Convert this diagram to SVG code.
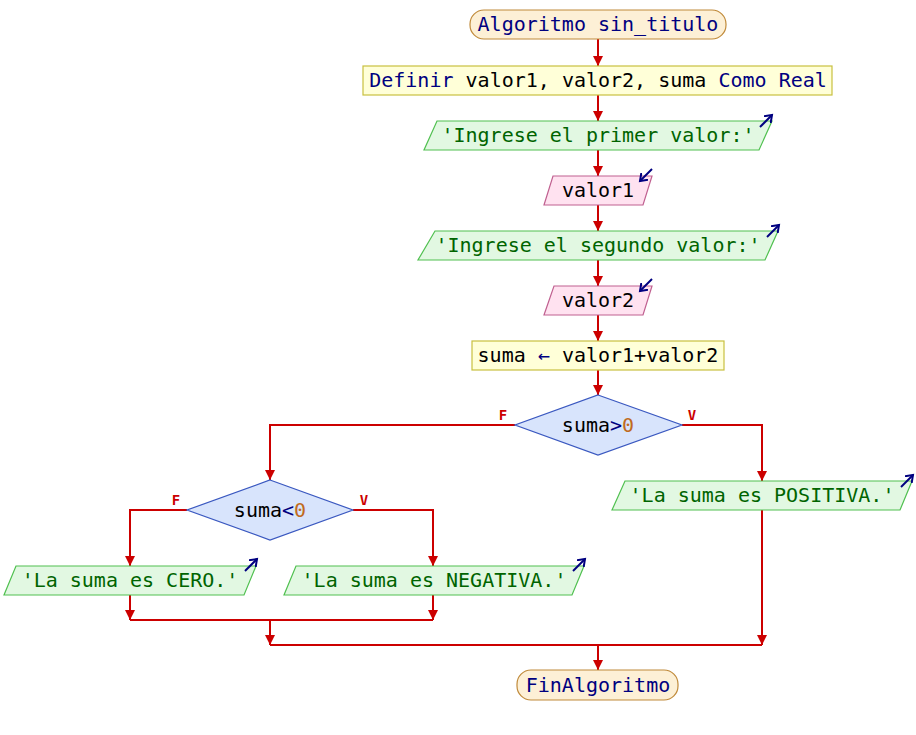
<svg xmlns="http://www.w3.org/2000/svg" width="916" height="735" viewBox="0 0 916 735">
<style>
text{font-family:"DejaVu Sans Mono","Liberation Mono",monospace;font-size:20px;text-anchor:middle}
.term{fill:#fdf0d6;stroke:#c08a3a;stroke-width:1.2}
.proc{fill:#ffffd8;stroke:#c8c040;stroke-width:1.2}
.out{fill:#e2f8e2;stroke:#50c050;stroke-width:1.2}
.in{fill:#ffe2f0;stroke:#c06090;stroke-width:1.2}
.dec{fill:#d8e4fc;stroke:#3a58c0;stroke-width:1.2}
.kw{fill:#000080}
.str{fill:#006400}
.num{fill:#c06a20}
.var{fill:#000}
.lbl{fill:#cc0000;font-size:14px;font-weight:bold}
.conn{fill:none;stroke:#cc0000;stroke-width:2}
.icon{fill:none;stroke:#000080;stroke-width:2}
</style>
<defs>
<marker id="ah" markerUnits="userSpaceOnUse" markerWidth="12" markerHeight="10" refX="10" refY="5" orient="auto">
<path d="M0,0 L10,5 L0,10 Z" fill="#cc0000"/>
</marker>
<marker id="ih" markerUnits="userSpaceOnUse" markerWidth="10" markerHeight="10" refX="7" refY="5" orient="auto">
<path d="M0,0 L7,5 L0,10" fill="none" stroke="#000080" stroke-width="2"/>
</marker>
</defs>
<g id="connectors">
<path class="conn" marker-end="url(#ah)" d="M598,39 V66"/>
<path class="conn" marker-end="url(#ah)" d="M598,95 V121"/>
<path class="conn" marker-end="url(#ah)" d="M598,150 V176"/>
<path class="conn" marker-end="url(#ah)" d="M598,205 V231"/>
<path class="conn" marker-end="url(#ah)" d="M598,260 V286"/>
<path class="conn" marker-end="url(#ah)" d="M598,315 V341"/>
<path class="conn" marker-end="url(#ah)" d="M598,370 V395"/>
<path class="conn" marker-end="url(#ah)" d="M515,425 H270 V480"/>
<path class="conn" marker-end="url(#ah)" d="M682,425 H762 V481"/>
<path class="conn" marker-end="url(#ah)" d="M187,510 H130 V566"/>
<path class="conn" marker-end="url(#ah)" d="M353,510 H433 V566"/>
<path class="conn" marker-end="url(#ah)" d="M130,595 V620"/>
<path class="conn" marker-end="url(#ah)" d="M433,595 V620"/>
<path class="conn" d="M130,620 H433"/>
<path class="conn" marker-end="url(#ah)" d="M270,620 V645"/>
<path class="conn" marker-end="url(#ah)" d="M762,510 V645"/>
<path class="conn" d="M270,645 H762"/>
<path class="conn" marker-end="url(#ah)" d="M598,645 V670"/>
<text class="lbl" x="503" y="420">F</text>
<text class="lbl" x="692" y="420">V</text>
<text class="lbl" x="176" y="505">F</text>
<text class="lbl" x="364" y="505">V</text>
</g>
<g id="start">
<rect class="term" x="470" y="10" width="256" height="29" rx="14"/>
<text class="kw" x="598" y="31">Algoritmo sin_titulo</text>
</g>
<g id="define">
<rect class="proc" x="363" y="66" width="469" height="29"/>
<text x="598" y="87"><tspan class="kw">Definir</tspan> <tspan class="var">valor1, valor2, suma</tspan> <tspan class="kw">Como Real</tspan></text>
</g>
<g id="out1">
<polygon class="out" points="437,121 772,121 759,150 424,150"/>
<text class="str" x="598" y="142">'Ingrese el primer valor:'</text>
<path class="icon" marker-end="url(#ih)" d="M760,127 L772,115"/>
</g>
<g id="in1">
<polygon class="in" points="553,176 652,176 643,205 544,205"/>
<text class="var" x="598" y="197">valor1</text>
<path class="icon" marker-end="url(#ih)" d="M652,169 L640,181"/>
</g>
<g id="out2">
<polygon class="out" points="435,231 778,231 765,260 418,260"/>
<text class="str" x="598" y="252">'Ingrese el segundo valor:'</text>
<path class="icon" marker-end="url(#ih)" d="M767,237 L779,225"/>
</g>
<g id="in2">
<polygon class="in" points="554,286 652,286 643,315 544,315"/>
<text class="var" x="598" y="307">valor2</text>
<path class="icon" marker-end="url(#ih)" d="M652,279 L640,291"/>
</g>
<g id="assign">
<rect class="proc" x="472" y="341" width="252" height="29"/>
<text x="598" y="362"><tspan class="var">suma</tspan> <tspan class="kw">←</tspan> <tspan class="var">valor1+valor2</tspan></text>
</g>
<g id="dec1">
<polygon class="dec" points="598,395 682,425 598,455 515,425"/>
<text x="598" y="432"><tspan class="var">suma</tspan><tspan class="kw">&gt;</tspan><tspan class="num">0</tspan></text>
</g>
<g id="outPos">
<polygon class="out" points="625,481 912,481 900,510 612,510"/>
<text class="str" x="762" y="502">'La suma es POSITIVA.'</text>
<path class="icon" marker-end="url(#ih)" d="M901,487 L913,475"/>
</g>
<g id="dec2">
<polygon class="dec" points="270,480 353,510 270,540 187,510"/>
<text x="270" y="517"><tspan class="var">suma</tspan><tspan class="kw">&lt;</tspan><tspan class="num">0</tspan></text>
</g>
<g id="outCero">
<polygon class="out" points="16,566 256,566 244,595 4,595"/>
<text class="str" x="130" y="587">'La suma es CERO.'</text>
<path class="icon" marker-end="url(#ih)" d="M245,571 L257,559"/>
</g>
<g id="outNeg">
<polygon class="out" points="296,566 584,566 572,595 284,595"/>
<text class="str" x="434" y="587">'La suma es NEGATIVA.'</text>
<path class="icon" marker-end="url(#ih)" d="M573,571 L585,559"/>
</g>
<g id="end">
<rect class="term" x="517" y="670" width="161" height="30" rx="14"/>
<text class="kw" x="598" y="692">FinAlgoritmo</text>
</g>
</svg>
